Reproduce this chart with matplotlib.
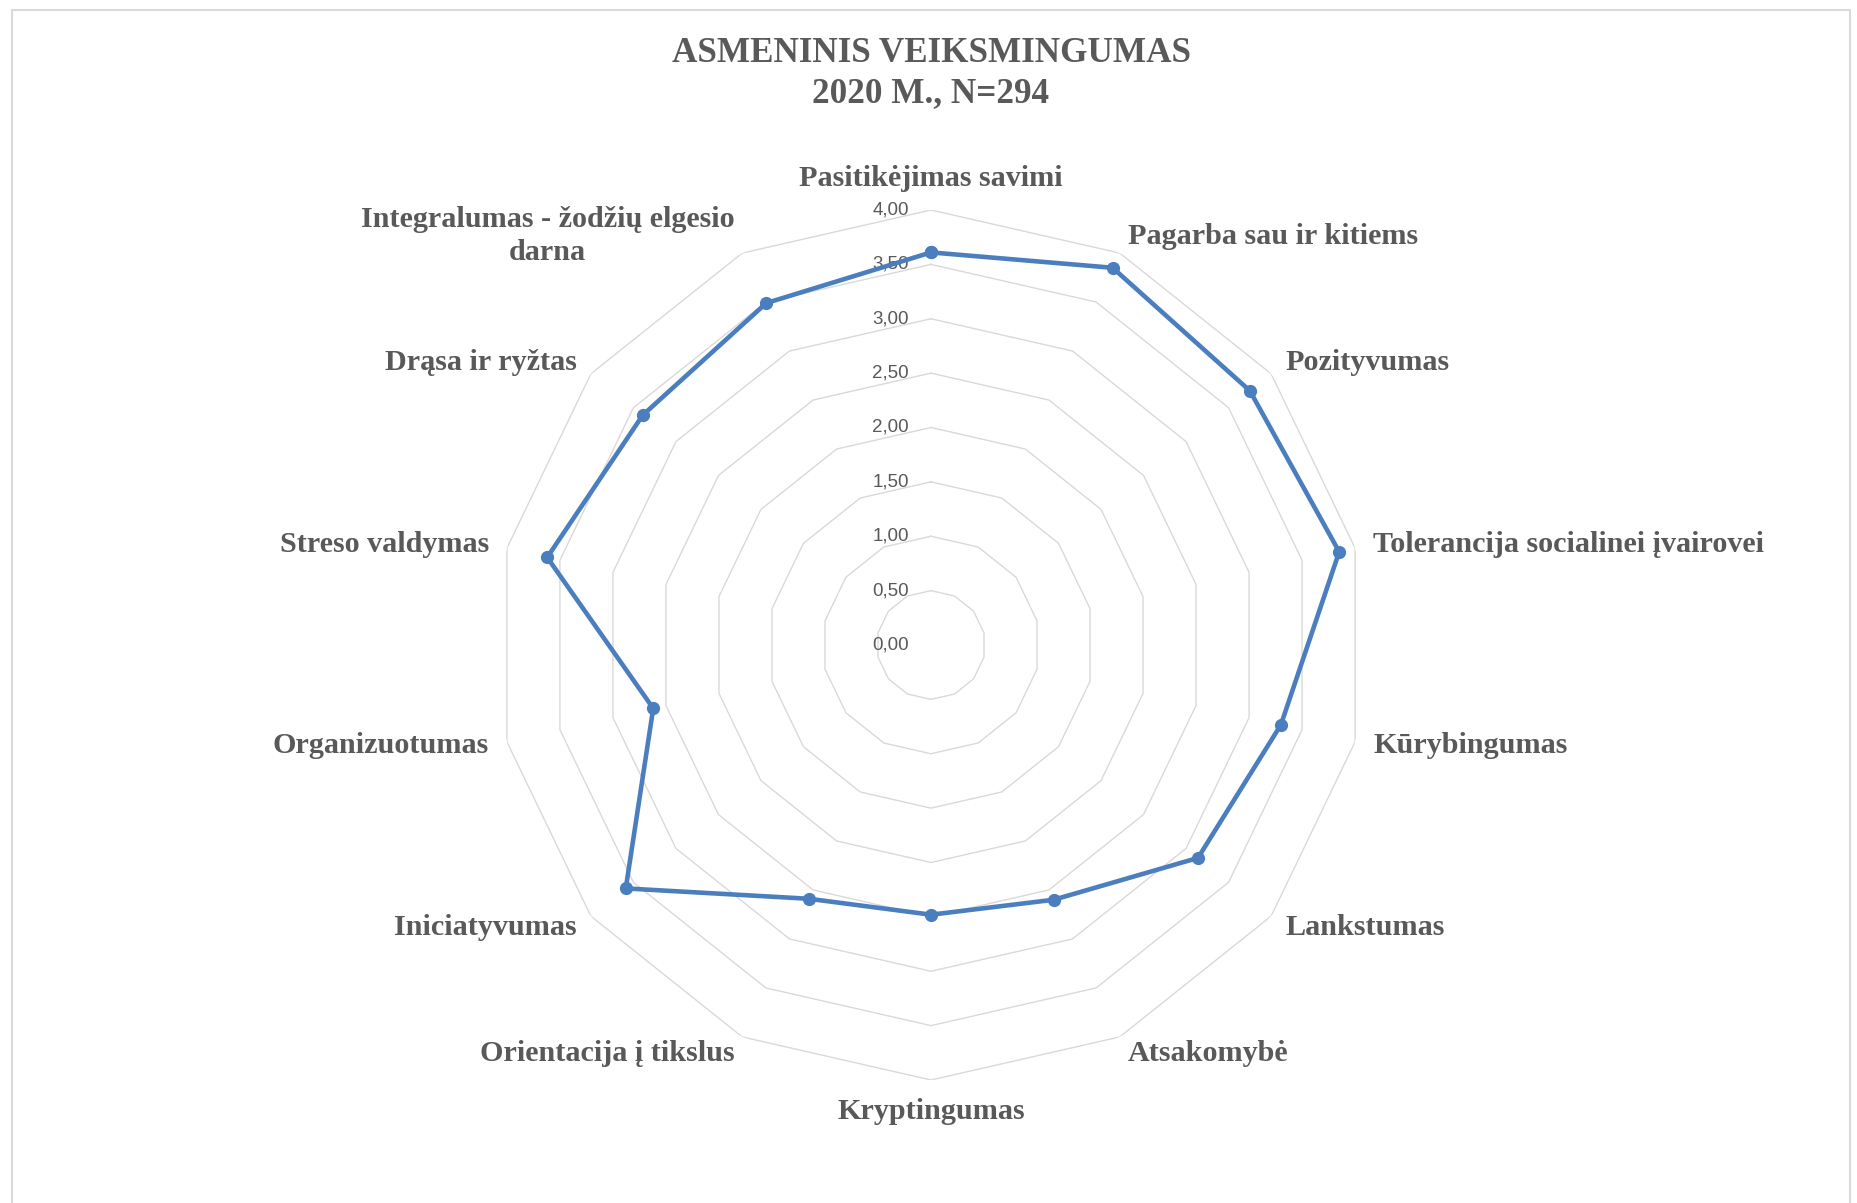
import numpy as np
import matplotlib
matplotlib.use("Agg")
import matplotlib.pyplot as plt
from matplotlib.patches import Rectangle

# data
categories = [
    "Pasitikėjimas savimi",
    "Pagarba sau ir kitiems",
    "Pozityvumas",
    "Tolerancija socialinei įvairovei",
    "Kūrybingumas",
    "Lankstumas",
    "Atsakomybė",
    "Kryptingumas",
    "Orientacija į tikslus",
    "Iniciatyvumas",
    "Organizuotumas",
    "Streso valdymas",
    "Drąsa ir ryžtas",
    "Integralumas - žodžių elgesio\ndarna",
]
values = [3.61, 3.85, 3.75, 3.85, 3.30, 3.14, 2.60, 2.48, 2.59, 3.59, 2.62, 3.62, 3.39, 3.49]
rings = [0.0, 0.5, 1.0, 1.5, 2.0, 2.5, 3.0, 3.5, 4.0]
ring_labels = ["0,00", "0,50", "1,00", "1,50", "2,00", "2,50", "3,00", "3,50", "4,00"]
title_lines = ["ASMENINIS VEIKSMINGUMAS", "2020 M., N=294"]

W, H = 1857, 1203
fig = plt.figure(figsize=(W / 100, H / 100), dpi=100)
fig.patch.set_facecolor("white")

# outer frame of the chart area
fig.patches.append(Rectangle((12 / W, -0.05), (1850 - 12) / W, 1.05 - 10 / H,
                             transform=fig.transFigure, fill=False,
                             edgecolor="#D9D9D9", linewidth=1.5))

cx, cy, R = 931, 645, 435
ax = fig.add_axes([(cx - R) / W, (H - cy - R) / H, 2 * R / W, 2 * R / H], polar=True)
ax.set_theta_zero_location("N")
ax.set_theta_direction(-1)
ax.set_ylim(0, 4)
ax.grid(False)
ax.set_xticks([])
ax.set_yticks([])
ax.spines["polar"].set_visible(False)
ax.patch.set_alpha(0)

n = len(categories)
theta = np.arange(n) * 2 * np.pi / n
theta_c = np.append(theta, theta[0])

# polygon gridlines
for r in rings[1:]:
    ax.plot(theta_c, [r] * (n + 1), color="#D9D9D9", lw=1.0, zorder=1)

# radial axis labels
for r, lab in zip(rings, ring_labels):
    ax.annotate(lab, xy=(0, r), xytext=(-22, 0), textcoords="offset pixels",
                ha="right", va="center", fontsize=13.5, color="#595959",
                family="Liberation Sans", zorder=2)

vals_c = values + values[:1]
ax.plot(theta_c, vals_c, color="#4A7EBF", lw=3.3, marker="o", markersize=8.5,
        zorder=3, clip_on=False)

# category labels
for t, lab in zip(theta, categories):
    s, c = np.sin(t), np.cos(t)
    if abs(s) < 0.01:
        ha = "center"
        va = "bottom" if c > 0 else "top"
    else:
        ha = "left" if s > 0 else "right"
        va = "center"
    ax.text(t, 4.17, lab, ha=ha, va=va, multialignment="center",
            fontsize=21.7, fontweight="bold", family="Liberation Serif",
            color="#595959", linespacing=1.28)

fig.text(cx / W, 1 - 53 / H, title_lines[0], ha="center", va="center",
         fontsize=25.3, fontweight="bold", family="Liberation Serif", color="#595959")
fig.text(cx / W, 1 - 94 / H, title_lines[1], ha="center", va="center",
         fontsize=25.3, fontweight="bold", family="Liberation Serif", color="#595959")

fig.savefig("out.png", dpi=100)
